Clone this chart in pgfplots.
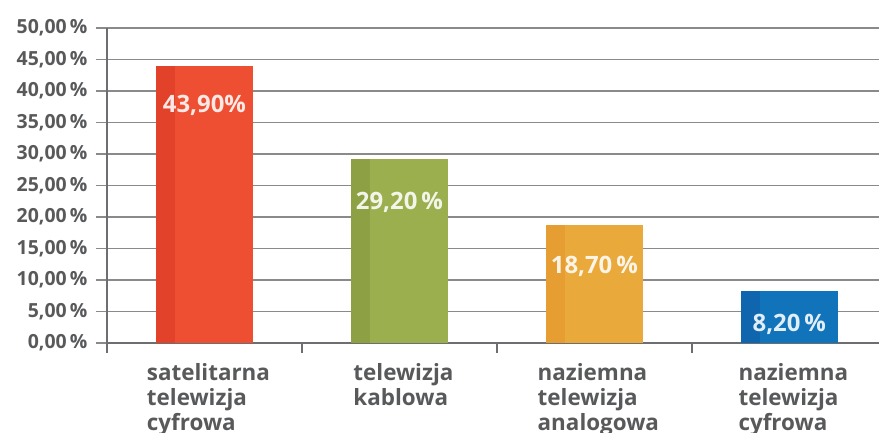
\documentclass[border=0pt]{standalone}
\usepackage{pgfplots}
\pgfplotsset{compat=1.18}
\usepackage{fontspec}
\setmainfont{Open Sans}
\definecolor{txt}{HTML}{58595B}
\definecolor{axisgray}{HTML}{6D6E71}
\definecolor{gridgray}{HTML}{8A8A8A}
\definecolor{cR}{HTML}{EE4F32}
\definecolor{cRd}{HTML}{E2412A}
\definecolor{cG}{HTML}{9CAF4F}
\definecolor{cGd}{HTML}{8DA144}
\definecolor{cO}{HTML}{EAAA3B}
\definecolor{cOd}{HTML}{E69D31}
\definecolor{cB}{HTML}{1174BB}
\definecolor{cBd}{HTML}{0F66AE}
\begin{document}
\begin{tikzpicture}
\begin{axis}[name=ax, at={(0,0)}, anchor=south west,
  scale only axis, width=772bp, height=315bp,
  xmin=-0.5, xmax=3.46, ymin=0, ymax=50,
  axis x line*=bottom, axis y line*=left,
  axis line style={-, draw=axisgray, line width=2bp},
  ytick={0,5,...,50},
  yticklabels={{0,00\,\%},{5,00\,\%},{10,00\,\%},{15,00\,\%},{20,00\,\%},{25,00\,\%},{30,00\,\%},{35,00\,\%},{40,00\,\%},{45,00\,\%},{50,00\,\%}},
  ymajorgrids, grid style={draw=gridgray, line width=1.5bp},
  tick align=outside, major tick length=11bp,
  ytick style={draw=gridgray, line width=1.5bp},
  xtick={0,1,2,3},
  xticklabels={{satelitarna\\telewizja\\cyfrowa},{telewizja\\kablowa},{naziemna\\telewizja\\analogowa},{naziemna\\telewizja\\cyfrowa}},
  xtick style={draw=none},
  extra x ticks={-0.5,0.5,1.5,2.5}, extra x tick labels={},
  extra x tick style={grid=none, xtick style={draw=axisgray, line width=1.5bp}, major tick length=10bp},
  xticklabel style={align=left, anchor=north, font=\fontsize{22.5}{25}\selectfont\bfseries, text=txt, yshift=-6bp, xshift=4bp},
  yticklabel style={font=\fontsize{19.5}{20}\selectfont\bfseries, text=txt, xshift=-5bp},
  clip=false,
]
% main bars
\addplot[ybar, bar width=0.5, bar shift=0, fill=cR, draw=none] coordinates {(0,43.9)};
\addplot[ybar, bar width=0.5, bar shift=0, fill=cG, draw=none] coordinates {(1,29.2)};
\addplot[ybar, bar width=0.5, bar shift=0, fill=cO, draw=none] coordinates {(2,18.7)};
\addplot[ybar, bar width=0.5, bar shift=0, fill=cB, draw=none] coordinates {(3,8.2)};
% dark strips
\addplot[ybar, bar width=0.1, bar shift=-0.2, fill=cRd, draw=none] coordinates {(0,43.9)};
\addplot[ybar, bar width=0.1, bar shift=-0.2, fill=cGd, draw=none] coordinates {(1,29.2)};
\addplot[ybar, bar width=0.1, bar shift=-0.2, fill=cOd, draw=none] coordinates {(2,18.7)};
\addplot[ybar, bar width=0.1, bar shift=-0.2, fill=cBd, draw=none] coordinates {(3,8.2)};
% value labels
\pgfplotsset{lbl/.style={ybar, bar width=0.5, bar shift=0, draw=none, fill=none,
  point meta=explicit symbolic, nodes near coords,
  every node near coord/.append style={anchor=center, font=\fontsize{24}{25}\selectfont\bfseries, text=white, text opacity=0.88, yshift=-#1}}}
\addplot[lbl=39bp] coordinates {(0,43.9) [43,90\%]};
\addplot[lbl=43bp] coordinates {(1,29.2) [29,20\,\%]};
\addplot[lbl=41bp] coordinates {(2,18.7) [18,70\,\%]};
\addplot[lbl=33bp] coordinates {(3,8.2) [8,20\,\%]};
\end{axis}
\pgfresetboundingbox
\path ([xshift=-107bp,yshift=-90bp]ax.south west) rectangle ([yshift=28bp]ax.north east);
\end{tikzpicture}
\end{document}
